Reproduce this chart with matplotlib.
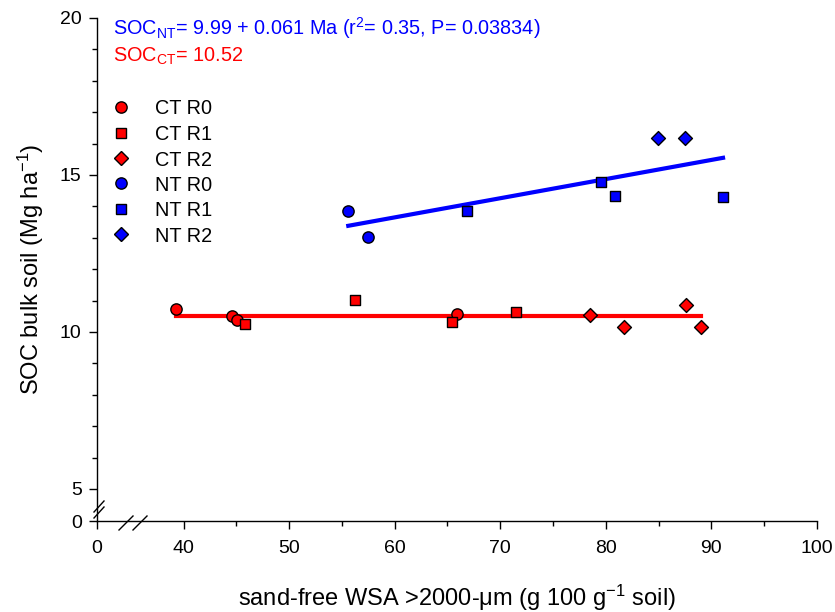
import matplotlib
matplotlib.use("Agg")
import matplotlib.pyplot as plt
from matplotlib.ticker import FixedLocator, FixedFormatter
from matplotlib.lines import Line2D

plt.rcParams['font.family'] = ['Liberation Sans', 'DejaVu Sans']
plt.rcParams['mathtext.default'] = 'regular'

# Water-stable aggregates (x) and SOC stock (y) per tillage / rotation group
ct_r0_x = [39.3, 44.6, 45.1, 65.9]
ct_r0_y = [10.73, 10.51, 10.38, 10.57]
ct_r1_x = [45.8, 56.2, 65.4, 71.5]
ct_r1_y = [10.25, 11.02, 10.32, 10.64]
ct_r2_x = [78.5, 81.7, 87.6, 89.0]
ct_r2_y = [10.54, 10.16, 10.86, 10.16]
nt_r0_x = [55.6, 57.5]
nt_r0_y = [13.85, 13.03]
nt_r1_x = [66.8, 79.5, 80.9, 91.1]
nt_r1_y = [13.85, 14.78, 14.33, 14.30]
nt_r2_x = [84.9, 87.5]
nt_r2_y = [16.18, 16.18]

# Fitted models
nt_intercept, nt_slope = 9.99, 0.061
ct_mean = 10.52

x_ticks = [0, 40, 50, 60, 70, 80, 90, 100]
y_ticks = [0, 5, 10, 15, 20]

# Broken axes: the "0" tick sits just past the break
x_zero_pos = 31.8
y_zero_pos = 3.98

W, H = 835, 612
fig = plt.figure(figsize=(W / 100, H / 100), dpi=100)
ax = fig.add_axes([97 / W, 1 - 521 / H, 720 / W, 503 / H])

mk = dict(edgecolor='black', linewidths=1.0, zorder=3)
groups = [
    ("CT R0", ct_r0_x, ct_r0_y, 'o', 'red', 66),
    ("CT R1", ct_r1_x, ct_r1_y, 's', 'red', 56),
    ("CT R2", ct_r2_x, ct_r2_y, 'D', 'red', 50),
    ("NT R0", nt_r0_x, nt_r0_y, 'o', 'blue', 66),
    ("NT R1", nt_r1_x, nt_r1_y, 's', 'blue', 56),
    ("NT R2", nt_r2_x, nt_r2_y, 'D', 'blue', 50),
]
for label, xs, ys, m, c, s in groups:
    ax.scatter(xs, ys, marker=m, s=s, facecolor=c, label=label, **mk)

# Regression lines drawn over the data range of each tillage system
nt_all_x = nt_r0_x + nt_r1_x + nt_r2_x
ct_all_x = ct_r0_x + ct_r1_x + ct_r2_x
nx = [min(nt_all_x), max(nt_all_x)]
ax.plot(nx, [nt_intercept + nt_slope * v for v in nx], color='blue', lw=3, zorder=2)
cx = [min(ct_all_x), max(ct_all_x)]
ax.plot(cx, [ct_mean, ct_mean], color='red', lw=3, zorder=2)

ax.set_xlim(x_zero_pos, 100)
ax.set_ylim(y_zero_pos, 20)

xpos = [x_zero_pos] + x_ticks[1:]
ypos = [y_zero_pos] + y_ticks[1:]
ax.xaxis.set_major_locator(FixedLocator(xpos))
ax.xaxis.set_major_formatter(FixedFormatter([str(v) for v in x_ticks]))
ax.yaxis.set_major_locator(FixedLocator(ypos))
ax.yaxis.set_major_formatter(FixedFormatter([str(v) for v in y_ticks]))
ax.xaxis.set_minor_locator(FixedLocator([45, 55, 65, 75, 85, 95]))
ax.yaxis.set_minor_locator(FixedLocator([v for v in range(6, 20) if v not in (10, 15)]))

for s in ('top', 'right'):
    ax.spines[s].set_visible(False)
for s in ('left', 'bottom'):
    ax.spines[s].set_linewidth(1.0)
ax.tick_params(which='major', direction='out', length=6, width=1.0, labelsize=14, pad=5)
ax.tick_params(which='minor', direction='out', length=3.5, width=1.0)
ax.tick_params(axis='x', pad=8)

ax.set_xlabel("sand-free WSA >2000-μm (g 100 g$^{-1}$ soil)", fontsize=17, labelpad=18)
ax.set_ylabel("SOC bulk soil (Mg ha$^{-1}$)", fontsize=17, labelpad=10)

# Axis break marks
def brk(x0, y0, x1, y1):
    fig.add_artist(Line2D([x0 / W, x1 / W], [1 - y0 / H, 1 - y1 / H],
                          color='black', lw=1.0))

brk(94, 512, 104, 501)
brk(94, 518, 104, 507)
brk(119, 530, 133, 516)
brk(133, 530, 147, 516)

# Model annotations
fig.text(113 / W, 1 - 35 / H,
         "SOC$_{NT}$= 9.99 + 0.061 Ma (r$^{2}$= 0.35, P= 0.03834)",
         color='blue', fontsize=14.3, va='baseline')
fig.text(113 / W, 1 - 62 / H, "SOC$_{CT}$= 10.52",
         color='red', fontsize=14.3, va='baseline')

# Legend: marker column and label column
row_y = [107, 132.5, 158, 183, 208.5, 234]
for (label, xs, ys, m, c, s), ry in zip(groups, row_y):
    fig.add_artist(Line2D([121 / W], [1 - ry / H], marker=m, linestyle='none',
                          markersize=(s ** 0.5), markerfacecolor=c,
                          markeredgecolor='black', markeredgewidth=1.0))
    fig.text(155 / W, 1 - ry / H, label, fontsize=14.3, va='center_baseline')

fig.savefig("out.png", dpi=100)
